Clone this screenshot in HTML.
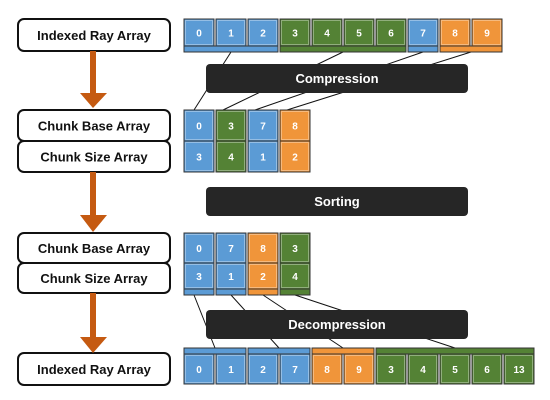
<!DOCTYPE html>
<html><head><meta charset="utf-8"><style>
body{margin:0;background:#fff;width:550px;height:400px;overflow:hidden}
svg{display:block;font-family:"Liberation Sans",sans-serif}
</style></head><body>
<svg id="d" width="550" height="400"></svg>
<script>
const topVals=[0,1,2,3,4,5,6,7,8,9];
const topCols=['b','b','b','g','g','g','g','b','o','o'];
const base1=[0,3,7,8]; const size1=[3,4,1,2]; const cols1=['b','g','b','o'];
const base2=[0,7,8,3]; const size2=[3,1,2,4]; const cols2=['b','b','o','g'];
const botVals=[0,1,2,7,8,9,3,4,5,6,13];
const botCols=['b','b','b','b','o','o','g','g','g','g','g'];
const botGroups=[[0,2],[2,4],[4,6],[6,11]];
const topGroups=[[0,3,'b'],[3,7,'g'],[7,8,'b'],[8,10,'o']];
const C={b:'#5b9bd5',g:'#548235',o:'#f0953a'};
const svg=document.getElementById('d');const NS='http://www.w3.org/2000/svg';
function el(t,a,name,txt){const e=document.createElementNS(NS,t);for(const k in a)e.setAttribute(k,a[k]);


if(txt!==undefined)e.textContent=txt;svg.appendChild(e);return e;}
const X0=184,P=32,W=30;
const cx=i=>X0+i*P;
const comp=[[0,3],[3,7],[7,8],[8,10]];
comp.forEach((g,k)=>{el('line',{x1:(cx(g[0])+cx(g[1]-1)+W)/2,y1:52,x2:cx(k)+W/2+(k==0?-5:-8),y2:110,stroke:'#111','stroke-width':1},'compression-link');});
botGroups.forEach((g,k)=>{el('line',{x1:cx(k)+W/2-(k==0?5:0),y1:295,x2:(cx(g[0])+cx(g[1]-1)+W)/2,y2:348,stroke:'#111','stroke-width':1},'decompression-link');});
function cell(x,y,h,v,c,name){el('rect',{x:x,y:y,width:W,height:h,fill:C[c],stroke:'#333','stroke-width':1},name);
el('rect',{x:x+1.5,y:y+1.5,width:W-3,height:h-3,fill:'none',stroke:'#fff','stroke-opacity':0.5,'stroke-width':0.7},name+'-inner');
el('text',{x:x+W/2,y:y+h/2+4,'text-anchor':'middle','font-size':10,'font-weight':'bold',fill:'#fff'},name+'-value',v);}
topVals.forEach((v,i)=>cell(cx(i),19,27,v,topCols[i],'top-cell'));
topGroups.forEach(g=>el('rect',{x:cx(g[0]),y:46,width:cx(g[1]-1)+W-cx(g[0]),height:6,fill:C[g[2]],stroke:'#333','stroke-width':1},'top-group-bar'));
base1.forEach((v,i)=>cell(cx(i),110,31,v,cols1[i],'chunk-base-1'));
size1.forEach((v,i)=>cell(cx(i),141,31,v,cols1[i],'chunk-size-1'));
base2.forEach((v,i)=>cell(cx(i),233,30,v,cols2[i],'chunk-base-2'));
size2.forEach((v,i)=>cell(cx(i),263,26,v,cols2[i],'chunk-size-2'));
cols2.forEach((c,i)=>el('rect',{x:cx(i),y:289,width:W,height:6,fill:C[c],stroke:'#333','stroke-width':1},'chunk-bar'));
botGroups.forEach(g=>el('rect',{x:cx(g[0]),y:348,width:cx(g[1]-1)+W-cx(g[0]),height:6,fill:C[botCols[g[0]]],stroke:'#333','stroke-width':1},'bottom-group-bar'));
botVals.forEach((v,i)=>cell(cx(i),354,30,v,botCols[i],'bottom-cell'));
[['Compression',64],['Sorting',187],['Decompression',310]].forEach(b=>{
el('rect',{x:206,y:b[1],width:262,height:29,rx:4,fill:'#262626'},b[0].toLowerCase()+'-box');
el('text',{x:337,y:b[1]+19,'text-anchor':'middle','font-size':13,'font-weight':'bold',fill:'#fff'},b[0].toLowerCase()+'-label',b[0]);});
[['Indexed Ray Array',19,32],['Chunk Base Array',110,31],['Chunk Size Array',141,31],['Chunk Base Array',233,30],['Chunk Size Array',263,30],['Indexed Ray Array',353,32]].forEach(l=>{
el('rect',{x:18,y:l[1],width:152,height:l[2],rx:6,fill:'#fff',stroke:'#111','stroke-width':2},'stage-label-box');
el('text',{x:94,y:l[1]+l[2]/2+5,'text-anchor':'middle','font-size':13,'font-weight':'bold',fill:'#111'},'stage-label',l[0]);});
[[51,93,108],[172,215,232],[293,337,353]].forEach(a=>{
el('rect',{x:90,y:a[0],width:6,height:a[1]-a[0],fill:'#c55a11'},'flow-arrow-shaft');
el('polygon',{points:`80,${a[1]} 107,${a[1]} 93,${a[2]}`,fill:'#c55a11'},'flow-arrow-head');});
</script>
</body></html>
